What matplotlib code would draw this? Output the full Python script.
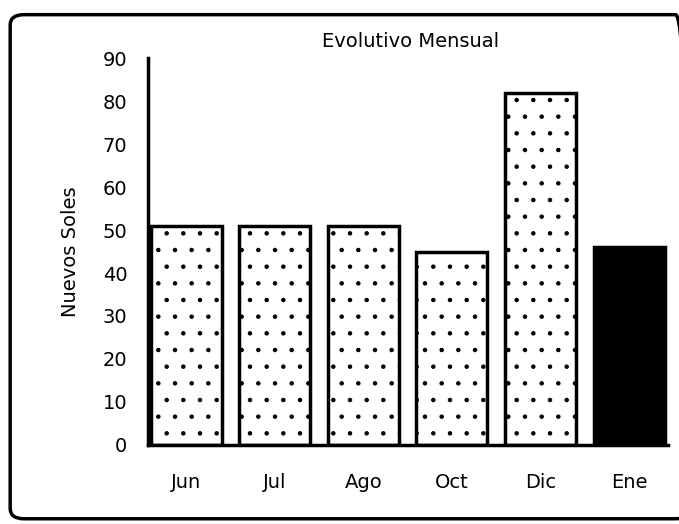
import matplotlib.pyplot as plt
from matplotlib.patches import FancyBboxPatch

months = ['Jun', 'Jul', 'Ago', 'Oct', 'Dic', 'Ene']
values = [51, 51, 51, 45, 82, 46]
fills = ['white', 'white', 'white', 'white', 'white', 'black']
hatches = ['.', '.', '.', '.', '.', '']


def main():
    plt.rcParams['hatch.linewidth'] = 0.8
    plt.rcParams['hatch.color'] = '#666666'
    fig = plt.figure(figsize=(6.79, 5.24), dpi=100)
    axe = fig.add_axes([0.218, 0.151, 0.766, 0.738])

    x = range(len(months))
    bars = axe.bar(x, values, width=0.8, color=fills, edgecolor='black', linewidth=2.5)
    for bar, hatch in zip(bars, hatches):
        bar.set_hatch(hatch)

    axe.set_xlim(-0.43, 5.44)
    axe.set_ylim(0, 90)
    axe.set_yticks(range(0, 91, 10))
    axe.set_xticks(list(x))
    axe.set_xticklabels(months)
    axe.tick_params(length=0, labelsize=14)
    axe.tick_params(axis='y', pad=15)
    axe.tick_params(axis='x', pad=20)
    for side in ['top', 'right']:
        axe.spines[side].set_visible(False)
    for side in ['left', 'bottom']:
        axe.spines[side].set_linewidth(2.5)

    axe.set_ylabel('Nuevos Soles', fontsize=14, labelpad=16)
    fig.text(0.605, 0.92, 'Evolutivo Mensual', ha='center', va='center', fontsize=14)

    border = FancyBboxPatch((0.015, 0.01), 1.0, 0.962, transform=fig.transFigure,
                            boxstyle='round,pad=0,rounding_size=0.02',
                            facecolor='none', edgecolor='black', linewidth=2.5,
                            clip_on=False)
    fig.patches.append(border)

    fig.savefig('out.png', dpi=100)


if __name__ == '__main__':
    main()
